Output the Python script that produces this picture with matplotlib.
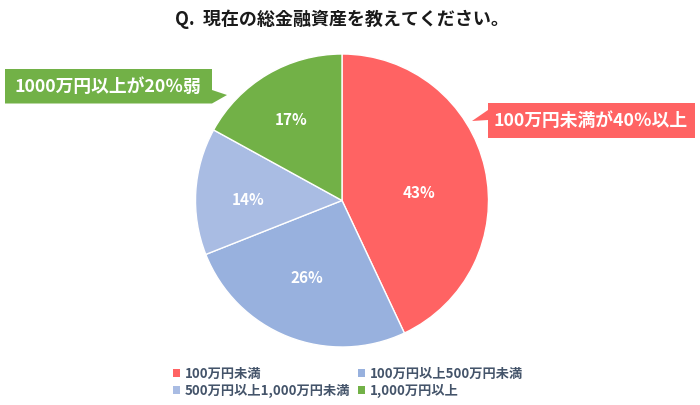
import matplotlib
matplotlib.use("Agg")
import numpy as np
import matplotlib.pyplot as plt
from matplotlib.patches import Polygon, Patch

plt.rcParams['font.family'] = ['Noto Sans CJK JP', 'DejaVu Sans']

title = "Q.  現在の総金融資産を教えてください。"
categories = ["100万円未満", "100万円以上500万円未満", "500万円以上1,000万円未満", "1,000万円以上"]
values = [43, 26, 14, 17]
colors = ["#FF6363", "#98B1DE", "#A9BCE3", "#72B147"]
callout_green = "1000万円以上が20％弱"
callout_red = "100万円未満が40％以上"

# label placement style (distance as fraction of radius, angle tweak in degrees)
label_dist = [0.53, 0.58, 0.64, 0.65]
label_dang = [-7, -2.7, 3.3, 2]

W, H = 700, 405
fig = plt.figure(figsize=(7, 4.05), dpi=100)
ax = fig.add_axes([0, 0, 1, 1])

def Y(y):
    return H - y

cx, cy, R = 342, Y(200.5), 146.5
wedges, texts, autotexts = ax.pie(
    values, colors=colors, startangle=90, counterclock=False,
    center=(cx, cy), radius=R, frame=True,
    autopct=lambda p: f"{p:.0f}%", pctdistance=0.55,
    wedgeprops=dict(edgecolor='white', linewidth=1),
    textprops=dict(color='white', fontsize=11, fontweight='bold'))
for w, t, d, da in zip(wedges, autotexts, label_dist, label_dang):
    th = np.deg2rad((w.theta1 + w.theta2) / 2 + da)
    t.set_position((cx + d * R * np.cos(th), cy + d * R * np.sin(th)))

ax.set_xlim(0, W)
ax.set_ylim(0, H)
ax.set_aspect('equal')
ax.axis('off')

ax.text(342, Y(19), title, ha='center', va='center', fontsize=13,
        fontweight='bold', color='#1a1a1a')

# green callout
g = [(5, 69), (212, 69), (212, 90), (227, 95), (212, 103.5), (5, 103.5)]
ax.add_patch(Polygon([(x, Y(y)) for x, y in g], closed=True, facecolor=colors[3], edgecolor='none'))
ax.text(108, Y(86.5), callout_green, ha='center', va='center', fontsize=12.8,
        fontweight='bold', color='white')

# red callout
r = [(488, 103), (695, 103), (695, 138), (488, 138), (488, 120), (472, 121), (488, 110)]
ax.add_patch(Polygon([(x, Y(y)) for x, y in r], closed=True, facecolor=colors[0], edgecolor='none'))
ax.text(591, Y(121), callout_red, ha='center', va='center', fontsize=12.8,
        fontweight='bold', color='white')

order = [0, 2, 1, 3]  # legend rows read left-to-right
handles = [Patch(facecolor=colors[i], edgecolor='none') for i in order]
labels = [categories[i] for i in order]
leg = ax.legend(handles, labels, ncol=2, loc='upper left',
                bbox_to_anchor=(166 / W, 1 - 360 / H), bbox_transform=fig.transFigure,
                frameon=False, handlelength=0.55, handleheight=0.55,
                handletextpad=0.35, columnspacing=0.6, labelspacing=0.25,
                borderpad=0, prop=dict(weight='bold', size=9.5))
for t in leg.get_texts():
    t.set_color('#44546A')

fig.savefig('out.png', dpi=100)
